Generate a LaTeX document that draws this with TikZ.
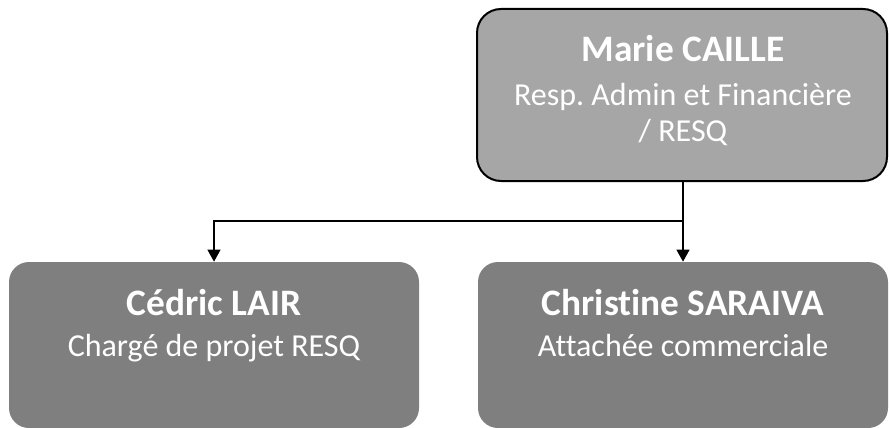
\documentclass[tikz,border=0pt]{standalone}
\usepackage{fontspec}
\setmainfont[Ligatures=CommonOff]{Carlito}
\frenchspacing
\usetikzlibrary{arrows.meta}
\definecolor{topgray}{HTML}{A6A6A6}
\definecolor{botgray}{HTML}{7F7F7F}
\tikzset{
  topbox/.style={draw=black, line width=1.5pt, fill=topgray, rounded corners=18pt,
    minimum width=410*0.75pt, minimum height=172*0.75pt, inner sep=0pt},
  botbox/.style={fill=botgray, rounded corners=15pt,
    minimum width=410*0.75pt, minimum height=166*0.75pt, inner sep=0pt},
  nametext/.style={text=white, anchor=base, font=\fontsize{28pt}{33pt}\selectfont\bfseries, inner sep=0pt},
  roletext/.style={text=white, anchor=base, font=\fontsize{24pt}{29pt}\selectfont, inner sep=0pt},
  conn/.style={line width=1.5pt, draw=black},
  arr/.style={conn, -{Triangle[width=9.5pt,length=9pt]}}
}
\begin{document}
\begin{tikzpicture}[x=0.75pt, y=-0.75pt]
\useasboundingbox (0,0) rectangle (889,428);
\node[topbox] (top) at (682,95) {};
\node[botbox] (left) at (214,345) {};
\node[botbox] (right) at (683,345) {};
\node[nametext] (topname) at (683,62) {Marie CAILLE};
\node[roletext] (toprole1) at (683,105) {Resp. Admin et Financière};
\node[roletext] (toprole2) at (683,142) {/ RESQ};
\node[nametext] (leftname) at (214,315) {Cédric LAIR};
\node[roletext] (leftrole) at (214,356) {Chargé de projet RESQ};
\node[nametext] (rightname) at (683,315) {Christine SARAIVA};
\node[roletext] (rightrole) at (683,356) {Attachée commerciale};
\coordinate (j) at (683,221);
\draw[conn] (top.south -| j) -- (j);
\draw[arr] (j) -| (left.north);
\draw[arr] (j) -- (right.north);
\end{tikzpicture}
\end{document}
